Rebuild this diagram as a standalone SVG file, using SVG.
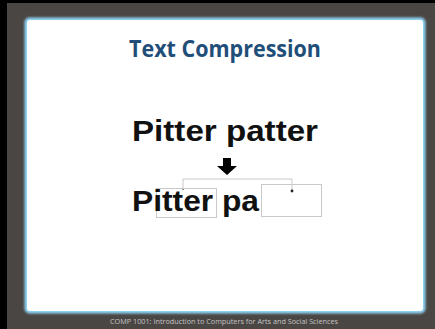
<svg xmlns="http://www.w3.org/2000/svg" width="435" height="329" viewBox="0 0 435 329">
<defs>
<style>
.big{font-family:"Liberation Sans",Arial,sans-serif;font-weight:bold;font-size:30px;fill:#111}
.box{fill:none;stroke:#c9c9c9;stroke-width:1}
</style>
<filter id="glow" x="-5%" y="-5%" width="110%" height="110%"><feGaussianBlur stdDeviation="1"/></filter>
</defs>
<rect x="0" y="0" width="435" height="329" fill="#000"/>
<rect x="7" y="3" width="428" height="326" fill="#4a4644"/>
<rect x="24.5" y="17.5" width="401" height="296" rx="5" fill="#8ed4f4" filter="url(#glow)"/>
<rect x="27" y="20" width="396" height="291" rx="3" fill="#fff"/>
<g id="title"><text x="225" y="57" text-anchor="middle" font-family="'Open Sans','Liberation Sans',sans-serif" font-weight="bold" font-size="24" fill="#1f4e79" textLength="192" lengthAdjust="spacingAndGlyphs">Text Compression</text></g>
<g id="line1"><text class="big" x="132" y="141" textLength="186" lengthAdjust="spacingAndGlyphs">Pitter patter</text></g>
<g id="connectors">
<path d="M223 158h8v8h6l-10 9l-10-9h6z" fill="#000"/>
<path d="M183 188V179H292V190" fill="none" stroke="#c9c9c9" stroke-width="1"/>
<circle cx="183" cy="189" r="0.9" fill="#555"/>
<circle cx="292" cy="191" r="1.4" fill="#222"/>
</g>
<g id="line2">
<rect class="box" x="156.5" y="188.5" width="60" height="29"/>
<rect class="box" x="261.5" y="184.5" width="60" height="32"/>
<text class="big" x="132" y="211" textLength="127" lengthAdjust="spacingAndGlyphs">Pitter pa</text>
</g>
<g id="footer"><text x="224" y="324" text-anchor="middle" font-family="'Open Sans','Liberation Sans',sans-serif" font-size="6.5" fill="#c4c4c4" textLength="228" lengthAdjust="spacingAndGlyphs">COMP 1001: Introduction to Computers for Arts and Social Sciences</text></g>
</svg>
